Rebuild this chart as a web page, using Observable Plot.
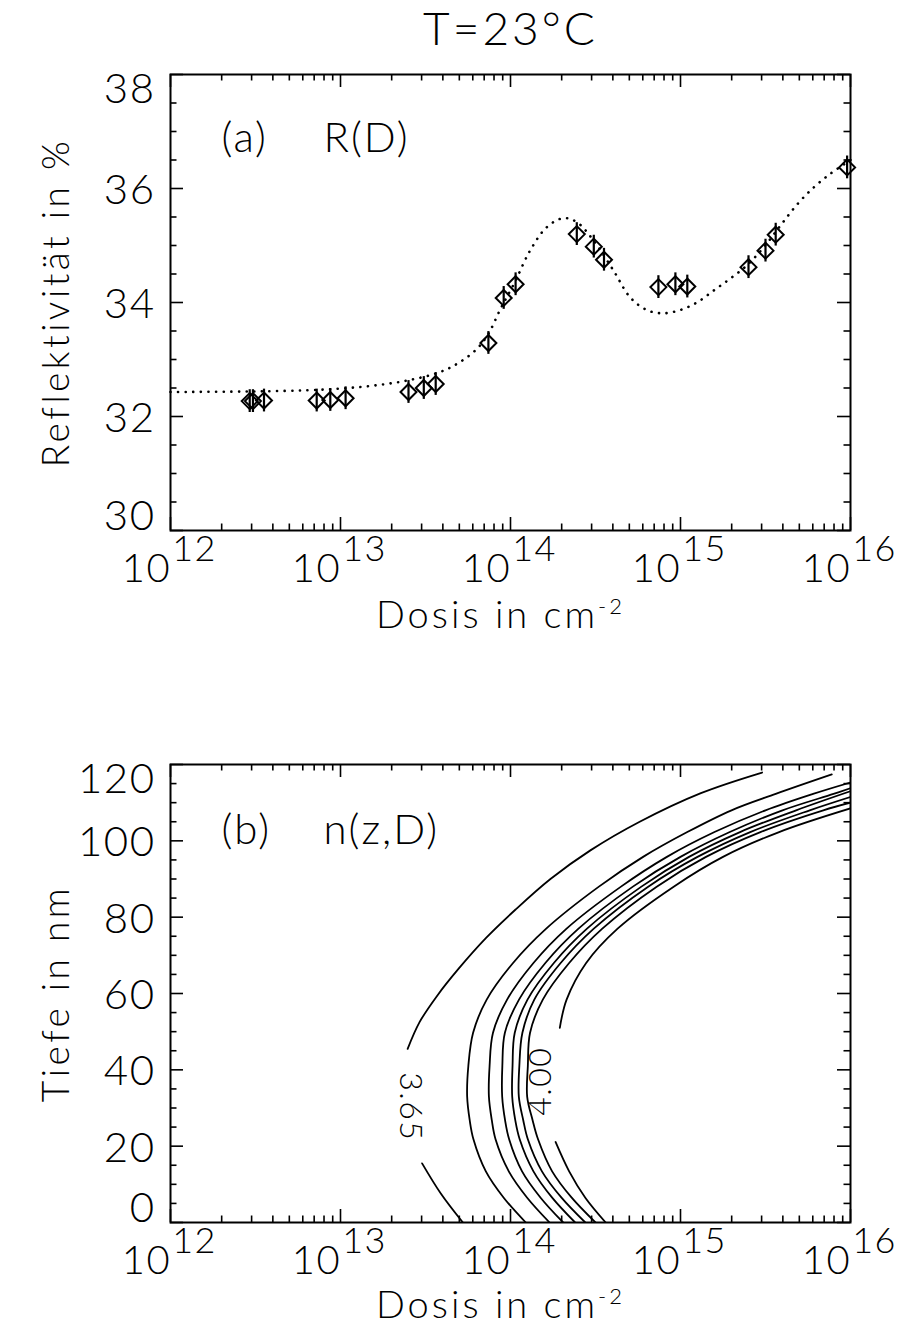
<!DOCTYPE html>
<html>
<head>
<meta charset="utf-8">
<script src="https://cdn.jsdelivr.net/npm/d3@7"></script>
<script src="https://cdn.jsdelivr.net/npm/@observablehq/plot@0.6"></script>
<style>
  body { margin: 0; background: #fff; }
  #wrap { position: relative; width: 900px; height: 1340px; background: #fff; font-family: Lato, Roboto, sans-serif; font-weight: 300; }
  #title { position: absolute; z-index: 2; left: 171px; width: 679px; top: 2px; text-align: center; font-size: 46px; line-height: 52px; letter-spacing: 3px; color: #000; }
  #pa { position: absolute; z-index: 1; left: 0; top: 0; }
  #pb { position: absolute; z-index: 1; left: 0; top: 670px; }
</style>
</head>
<body>
<div id="wrap">
  <div id="pa"></div>
  <div id="pb"></div>
  <div id="title">T=23°C</div>
</div>
<script>
// ---------------- data ----------------
// Panel (a): measured reflectivity, log10(dose / cm^-2) and R in %
const measLogDose = [12.466, 12.485, 12.55, 12.86, 12.94, 13.03, 13.40, 13.49, 13.56, 13.87, 13.96, 14.03, 14.39, 14.49, 14.55, 14.87, 14.97, 15.04, 15.40, 15.50, 15.56, 15.98];
const measR       = [32.27, 32.27, 32.28, 32.28, 32.29, 32.32, 32.43, 32.50, 32.57, 33.29, 34.08, 34.32, 35.20, 34.98, 34.75, 34.27, 34.32, 34.28, 34.62, 34.91, 35.19, 36.37];
const measErr     = [0.2, 0.2, 0.2, 0.2, 0.2, 0.2, 0.2, 0.2, 0.2, 0.2, 0.2, 0.2, 0.2, 0.2, 0.2, 0.2, 0.2, 0.2, 0.2, 0.2, 0.2, 0.2];

// Panel (a): fitted curve (dotted)
const fitLogDose = [12.0, 12.5, 12.8, 13.0, 13.19, 13.39, 13.585, 13.70, 13.80, 13.87, 13.94, 14.026, 14.115, 14.213, 14.311, 14.39, 14.488, 14.606, 14.704, 14.80, 14.896, 15.0, 15.097, 15.195, 15.293, 15.39, 15.49, 15.588, 15.686, 15.784, 15.882, 15.98, 16.0];
const fitR       = [32.43, 32.44, 32.46, 32.49, 32.54, 32.63, 32.78, 32.95, 33.18, 33.45, 33.88, 34.36, 34.91, 35.32, 35.48, 35.41, 35.09, 34.56, 34.09, 33.87, 33.81, 33.87, 34.0, 34.21, 34.42, 34.65, 34.97, 35.35, 35.72, 36.02, 36.26, 36.46, 36.5];

// Panel (b): contour lines of n(z,D): [log10(dose), depth in nm]
const contour365a = [[15.48,117.9],[15.12,112.5],[14.76,105],[14.47,97.5],[14.235,90],[14.03,82],[13.855,74.5],[13.695,66.5],[13.57,59.5],[13.465,52.5],[13.395,45.5]];
const contour365b = [[13.48,15.5],[13.59,7.6],[13.72,0]];
const contour370  = [[15.89,117.4],[15.56,112.3],[15.30,108],[15.04,102.3],[14.78,95.8],[14.52,88],[14.21,77],[14.015,68],[13.86,58.4],[13.78,49.7],[13.752,41],[13.745,33],[13.76,26.8],[13.782,21.8],[13.855,13.4],[13.96,6.5],[14.09,0]];
const contour375  = [[16.0,115.3],[15.78,112.3],[15.50,108],[15.20,102.3],[14.92,95.8],[14.65,88],[14.33,77],[14.135,68],[13.98,58.4],[13.897,49.7],[13.877,41],[13.873,33],[13.89,26.8],[13.912,21.8],[13.99,13.4],[14.098,6.5],[14.23,0]];
const contour380  = [[16.0,113.8],[15.90,112.3],[15.60,108],[15.29,102.3],[15.00,95.8],[14.72,88],[14.40,77],[14.205,68],[14.05,58.4],[13.967,49.7],[13.952,41],[13.951,33],[13.968,26.8],[13.992,21.8],[14.068,13.4],[14.177,6.5],[14.31,0]];
const contour385  = [[16.0,113],[15.68,108],[15.35,102.3],[15.05,95.8],[14.77,88],[14.45,77],[14.255,68],[14.10,58.4],[14.025,49.7],[14.012,41],[14.01,33],[14.028,26.8],[14.054,21.8],[14.135,13.4],[14.245,6.5],[14.38,0]];
const contour390  = [[16.0,111.5],[15.76,108],[15.41,102.3],[15.10,95.8],[14.81,88],[14.49,77],[14.295,68],[14.14,58.4],[14.07,49.7],[14.052,41],[14.049,33],[14.075,26.8],[14.102,21.8],[14.185,13.4],[14.30,6.5],[14.44,0]];
const contour395  = [[16.0,110],[15.84,108],[15.47,102.3],[15.15,95.8],[14.86,88],[14.54,77],[14.345,68],[14.19,58.4],[14.115,49.7],[14.102,41],[14.098,33],[14.13,26.8],[14.162,21.8],[14.245,13.4],[14.36,6.5],[14.50,0]];
const contour400a = [[16.0,108.5],[15.58,102.3],[15.25,95.8],[14.96,88],[14.63,77],[14.445,68],[14.33,58.4],[14.29,51]];
const contour400b = [[14.265,21.1],[14.345,13.4],[14.44,6.5],[14.56,0]];

// contour labels: [log10(dose), depth, text, rotation]
const contourLabels = [[13.41, 30.3, "3.65", 90], [14.18, 37.0, "4.00", -90]];

// axis ticks
const xMajor = [1e12, 1e13, 1e14, 1e15, 1e16];
const xExponent = ["12", "13", "14", "15", "16"];
const yTicksA = [30, 32, 34, 36, 38];
const yTicksB = [0, 20, 40, 60, 80, 100, 120];

// ---------------- build ----------------
const FONT = "Lato, Roboto, sans-serif";
const xMinor = [];
for (let e = 12; e < 16; e++) for (let k = 2; k <= 9; k++) xMinor.push(k * 10 ** e);

const meas = measLogDose.map((l, i) => ({D: 10 ** l, R: measR[i], lo: measR[i] - measErr[i], hi: measR[i] + measErr[i]}));
const fit = fitLogDose.map((l, i) => ({D: 10 ** l, R: fitR[i]}));

const segs = [
  ["3.65a", contour365a], ["3.65b", contour365b], ["3.70", contour370], ["3.75", contour375],
  ["3.80", contour380], ["3.85", contour385], ["3.90", contour390], ["3.95", contour395],
  ["4.00a", contour400a], ["4.00b", contour400b]
];
const contourRows = segs.flatMap(([id, pts]) => pts.map(([l, z]) => ({seg: id, D: 10 ** l, z})));
const labelRows = contourLabels.map(([l, z, t, r]) => ({D: 10 ** l, z, t, r}));

function frameTicks(yMajor, yMinor, innerW, innerH) {
  const M = 13, m = 6.5;
  return [
    Plot.tickX(xMajor, {x: d => d, insetTop: innerH - M, strokeWidth: 1.6}),
    Plot.tickX(xMinor, {x: d => d, insetTop: innerH - m, strokeWidth: 1.6}),
    Plot.tickX(xMajor, {x: d => d, insetBottom: innerH - M, strokeWidth: 1.6}),
    Plot.tickX(xMinor, {x: d => d, insetBottom: innerH - m, strokeWidth: 1.6}),
    Plot.tickY(yMajor, {y: d => d, insetRight: innerW - M, strokeWidth: 1.6}),
    Plot.tickY(yMinor, {y: d => d, insetRight: innerW - m, strokeWidth: 1.6}),
    Plot.tickY(yMajor, {y: d => d, insetLeft: innerW - M, strokeWidth: 1.6}),
    Plot.tickY(yMinor, {y: d => d, insetLeft: innerW - m, strokeWidth: 1.6})
  ];
}
// y tick labels: the end labels are kept inside the axis range (as in the original)
function yLabels(ticks) {
  const lo = ticks[0], hi = ticks[ticks.length - 1];
  const opts = {label: null, tickSize: 0, tickPadding: 15, fontSize: 42, tickFormat: d => String(d)};
  return [
    Plot.axisY(ticks.slice(1, -1), {...opts, dy: 2}),
    Plot.axisY([hi], {...opts, dy: 15}),
    Plot.axisY([lo], {...opts, dy: -14})
  ];
}
function xLabels() {
  return [
    Plot.axisX(xMajor, {label: null, tickSize: 0, tickPadding: 23, fontSize: 40, dx: -24, tickFormat: () => "10"}),
    Plot.axisX(xMajor, {label: null, tickSize: 0, tickPadding: 5, fontSize: 36, dx: 24, tickFormat: d => xExponent[xMajor.indexOf(d)]})
  ];
}

const mL = 170, mR = 50, W = 900;
const innerW = W - mL - mR;

// Panel (a)
const hA = 670, mTA = 74, mBA = 140;
const innerHA = hA - mTA - mBA;
const yMinorA = d3.range(30.5, 38, 0.5).filter(v => v % 2 !== 0);
const plotA = Plot.plot({
  width: W, height: hA, marginLeft: mL, marginRight: mR, marginTop: mTA, marginBottom: mBA,
  style: {fontFamily: FONT, fontWeight: 300, background: "transparent", color: "#000"},
  x: {type: "log", domain: [1e12, 1e16], axis: null},
  y: {domain: [30, 38], axis: null},
  marks: [
    Plot.frame({strokeWidth: 2}),
    ...frameTicks(yTicksA, yMinorA, innerW, innerHA),
    ...yLabels(yTicksA),
    ...xLabels(),
    Plot.line(fit, {x: "D", y: "R", curve: "catmull-rom", strokeWidth: 2.6, strokeDasharray: "0.1 7.5", strokeLinecap: "round"}),
    Plot.ruleX(meas, {x: "D", y1: "lo", y2: "hi", strokeWidth: 2.2}),
    Plot.dot(meas, {x: "D", y: "R", symbol: "diamond2", r: 7.2, stroke: "#000", strokeWidth: 2}),
    Plot.text(["(a)"], {frameAnchor: "top-left", dx: 51, dy: 48, textAnchor: "start", fontSize: 42}),
    Plot.text(["R(D)"], {frameAnchor: "top-left", dx: 153, dy: 48, textAnchor: "start", fontSize: 42}),
    Plot.text(["Reflektivität in %"], {frameAnchor: "left", dx: -113, rotate: -90, fontSize: 37, textAnchor: "middle"}),
    Plot.text(["Dosis in cm"], {frameAnchor: "bottom", dx: -10, dy: 97, fontSize: 38, textAnchor: "middle"})
  ]
});
document.getElementById("pa").append(plotA);

// Panel (b)
const hB = 670, mTB = 94, mBB = 118;
const innerHB = hB - mTB - mBB;
const yMinorB = d3.range(5, 120, 5).filter(v => v % 20 !== 0);
const plotB = Plot.plot({
  width: W, height: hB, marginLeft: mL, marginRight: mR, marginTop: mTB, marginBottom: mBB,
  style: {fontFamily: FONT, fontWeight: 300, background: "transparent", color: "#000"},
  x: {type: "log", domain: [1e12, 1e16], axis: null},
  y: {domain: [0, 120], axis: null},
  marks: [
    Plot.frame({strokeWidth: 2}),
    ...frameTicks(yTicksB, yMinorB, innerW, innerHB),
    ...yLabels(yTicksB),
    ...xLabels(),
    Plot.line(contourRows, {x: "D", y: "z", z: "seg", curve: "catmull-rom", strokeWidth: 1.8, clip: true}),
    Plot.text(labelRows, {x: "D", y: "z", text: "t", rotate: "r", fontSize: 32}),
    Plot.text(["(b)"], {frameAnchor: "top-left", dx: 51, dy: 50, textAnchor: "start", fontSize: 42}),
    Plot.text(["n(z,D)"], {frameAnchor: "top-left", dx: 153, dy: 50, textAnchor: "start", fontSize: 42}),
    Plot.text(["Tiefe in nm"], {frameAnchor: "left", dx: -113, rotate: -90, fontSize: 37, textAnchor: "middle"}),
    Plot.text(["Dosis in cm"], {frameAnchor: "bottom", dx: -10, dy: 95, fontSize: 38, textAnchor: "middle"})
  ]
});
document.getElementById("pb").append(plotB);

// superscript "-2" on the axis titles, and wider letter spacing (Hershey-like)
const wide = {"Reflektivität in %": 3.5, "Tiefe in nm": 3.5, "Dosis in cm": 3, "(a)": 2, "R(D)": 2, "(b)": 2, "n(z,D)": 2};
for (const svg of [plotA, plotB]) {
  d3.select(svg).selectAll("text").each(function () {
    const t = this.textContent;
    if (wide[t] !== undefined) this.style.letterSpacing = wide[t] + "px";
    else this.style.letterSpacing = "1.5px";
    if (t === "Dosis in cm") {
      d3.select(this).append("tspan").attr("dy", "-0.6em").attr("font-size", "22px").text("-2");
    }
  });
}
</script>
</body>
</html>
